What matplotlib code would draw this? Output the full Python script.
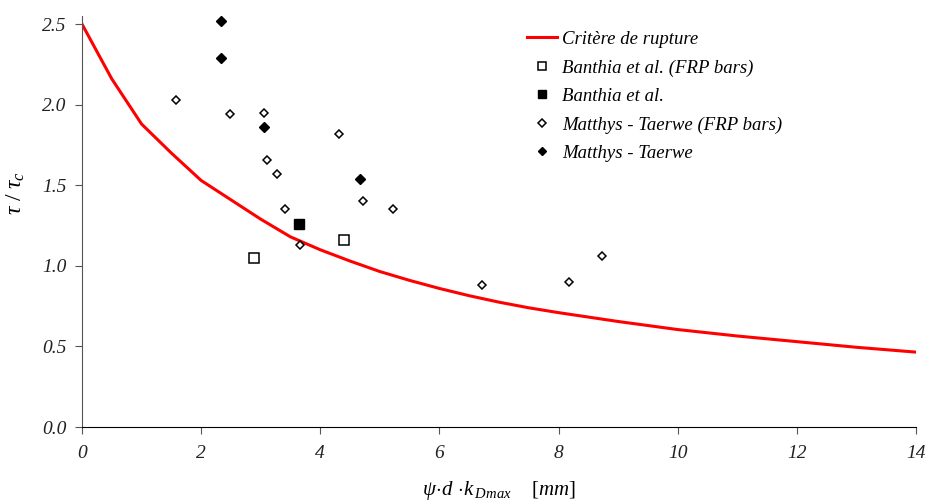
import matplotlib
matplotlib.use("Agg")
import matplotlib.pyplot as plt

# failure criterion curve
crit_x = [0, 0.5, 1.0, 1.5, 2.0, 2.5, 3.0, 3.5, 4.0, 4.5, 5.0, 5.5, 6.0, 6.5, 7.0, 7.5,
          8.0, 9.0, 10.0, 11.0, 12.0, 13.0, 14.0]
crit_y = [2.50, 2.16, 1.88, 1.70, 1.53, 1.41, 1.29, 1.18, 1.10, 1.03, 0.965, 0.91, 0.86, 0.815,
          0.775, 0.74, 0.71, 0.655, 0.605, 0.565, 0.53, 0.495, 0.465]

# test results
banthia_frp_x = [2.89, 4.40]
banthia_frp_y = [1.05, 1.16]

banthia_x = [3.64]
banthia_y = [1.26]

matthys_frp_x = [1.58, 2.48, 3.05, 4.32, 3.11, 3.28, 3.40, 4.71, 5.22, 3.66, 6.71, 8.18, 8.73]
matthys_frp_y = [2.03, 1.94, 1.95, 1.82, 1.66, 1.57, 1.35, 1.40, 1.35, 1.13, 0.88, 0.90, 1.06]

matthys_x = [2.33, 2.34, 3.05, 4.66]
matthys_y = [2.52, 2.29, 1.86, 1.54]

xticks = [0, 2, 4, 6, 8, 10, 12, 14]
yticks = [0.0, 0.5, 1.0, 1.5, 2.0, 2.5]

plt.rcParams['font.family'] = ['Liberation Serif', 'DejaVu Serif']
plt.rcParams['mathtext.fontset'] = 'custom'
plt.rcParams['mathtext.it'] = 'Liberation Serif:italic'
plt.rcParams['mathtext.rm'] = 'Liberation Serif'

fig = plt.figure(figsize=(9.27, 5.03), dpi=100)
ax = fig.add_axes([0.0885, 0.151, 0.8995, 0.817])

ax.plot(crit_x, crit_y, color='#ff0000', lw=2.2, label='Critère de rupture')
ax.plot(banthia_frp_x, banthia_frp_y, 's', ms=6.5, mfc='white', mec='black', mew=1.1,
        linestyle='none', label='Banthia et al. (FRP bars)')
ax.plot(banthia_x, banthia_y, 's', ms=6.5, mfc='black', mec='black',
        linestyle='none', label='Banthia et al.')
ax.plot(matthys_frp_x, matthys_frp_y, 'D', ms=4.5, mfc='white', mec='black', mew=1.1,
        linestyle='none', label='Matthys - Taerwe (FRP bars)')
ax.plot(matthys_x, matthys_y, 'D', ms=5, mfc='black', mec='black',
        linestyle='none', label='Matthys - Taerwe')

ax.set_xlim(0, 14)
ax.set_ylim(0, 2.55)
ax.set_xticks(xticks)
ax.set_xticklabels([str(t) for t in xticks])
ax.set_yticks(yticks)
ax.set_yticklabels([f"{t:.1f}" for t in yticks])

for side in ['top', 'right']:
    ax.spines[side].set_visible(False)
ax.spines['left'].set_color('#555555')
ax.spines['bottom'].set_color('black')
ax.tick_params(axis='both', direction='out', length=5, labelsize=14)
ax.tick_params(axis='x', pad=8, colors='#555555', labelcolor='#222222')
ax.tick_params(axis='y', pad=6, colors='#555555', labelcolor='#222222')
for lbl in ax.get_xticklabels() + ax.get_yticklabels():
    lbl.set_style('italic')

ax.set_ylabel(r'$\tau\ /\ \tau_c$', fontsize=17)
ax.yaxis.set_label_coords(-0.066, 0.57)
ax.set_xlabel(r'$\psi\!\cdot\! d\ \!\cdot\! k_{\,Dmax}$    $[mm]$', fontsize=15, labelpad=12)

leg = ax.legend(loc='upper left', bbox_to_anchor=(0.513, 1.005), frameon=False,
                handlelength=1.6, handletextpad=0.3, labelspacing=0.6, markerscale=0.8,
                prop={'style': 'italic', 'size': 13.5})

fig.savefig('out.png', dpi=100)
